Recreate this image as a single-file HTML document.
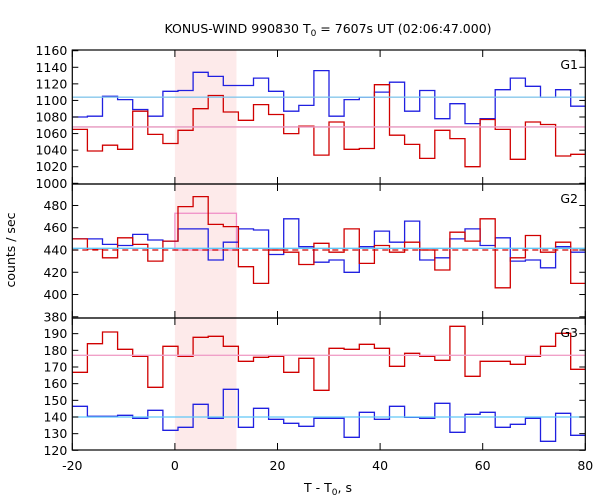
<!DOCTYPE html>
<html><head><meta charset="utf-8"><style>
html,body{margin:0;padding:0;background:#fff;}
svg{display:block;font-family:"DejaVu Sans","Liberation Sans",sans-serif;}
</style></head><body>
<svg id="chart" width="600" height="500" viewBox="0 0 600 500" xmlns="http://www.w3.org/2000/svg">
<text x="328" y="33" font-size="12.5" text-anchor="middle">KONUS-WIND 990830 T<tspan font-size="9" dy="3">0</tspan><tspan dy="-3"> = 7607s UT (02:06:47.000)</tspan></text>
<text x="15" y="250" font-size="12.5" text-anchor="middle" transform="rotate(-90 15 250)">counts / sec</text>
<text x="328" y="492" font-size="12.5" text-anchor="middle">T - T<tspan font-size="9" dy="3">0</tspan><tspan dy="-3">, s</tspan></text>
<g id="plots"></g>
</svg>
<script>
const binStart = -20;
const binWidth = 2.944;
const g1Blue = [1080,1081,1105,1101,1089,1081,1111,1112,1134,1129,1118,1118,1127,1111,1087,1094,1136,1081,1101,1104,1110,1122,1087,1112,1078,1096,1072,1078,1113,1127,1117,1104,1113,1093];
const g1Red = [1065,1039,1046,1041,1087,1059,1048,1064,1090,1106,1086,1076,1095,1083,1060,1069,1034,1074,1041,1042,1119,1058,1047,1030,1064,1054,1020,1077,1065,1029,1074,1071,1033,1035];
const g2Blue = [450,450,445,444,454,449,448,459,459,431,447,459,458,436,468,443,429,431,420,443,457,447,466,431,433,450,459,444,451,430,431,424,443,438];
const g2Red = [450,441,433,451,445,430,448,479,488,463,461,425,410,440,438,427,446,438,459,428,444,438,447,440,422,456,448,468,406,433,453,438,447,410];
const g3Red = [166.8,184,191,180.6,176.4,157.8,182.4,176.4,187.8,188.4,182.4,173.4,175.8,176.4,166.8,175.2,156,181.2,180.6,183.6,181.2,170.4,178.2,176.4,174,194.4,164.4,173.4,173.4,171.6,176.4,182.4,190.2,168.6];
const g3Blue = [146.4,140.4,140.4,141,139.2,144,132,133.8,147.6,139.2,156.6,133.8,145.2,138.6,136.2,134.4,139.2,139.2,127.8,142.8,138.6,146.4,139.8,139.2,148.2,130.8,141.6,142.8,133.8,135.6,139.2,125.4,142.2,129];
const g1Bkg = [1104, 1068];
const g2Bkg = [441.5, 440];
const g3Bkg = [140, 177];
const g2Interval = [0, 12, 473];
const shade = [0, 12];
const xTicks = [-20, 0, 20, 40, 60, 80];
const g1Ticks = [1000,1020,1040,1060,1080,1100,1120,1140,1160];
const g2Ticks = [380,400,420,440,460,480];
const g3Ticks = [120,130,140,150,160,170,180,190];

const NS = "http://www.w3.org/2000/svg";
const root = document.getElementById('plots');
const X0 = 72.3, X1 = 585.3, TMIN = -20, TMAX = 80;
const xs = t => X0 + (t - TMIN) * (X1 - X0) / (TMAX - TMIN);
const panels = [
  {name:'g1', top:50, bot:184, v0:1000, y0:183.3, k:0.8287, ticks:g1Ticks, label:'G1'},
  {name:'g2', top:184, bot:318, v0:440, y0:250, k:1.113, ticks:g2Ticks, label:'G2'},
  {name:'g3', top:318, bot:450, v0:140, y0:417, k:1.667, ticks:g3Ticks, label:'G3'}
];
function mk(tag, attrs){const e=document.createElementNS(NS,tag);for(const k in attrs)e.setAttribute(k,attrs[k]);root.appendChild(e);return e;}
function ysOf(p){return v => p.y0 - (v - p.v0) * p.k;}

// shaded interval
const sh = mk('rect',{x:xs(shade[0]),y:50,width:xs(shade[1])-xs(shade[0]),height:400,fill:'#fdeaea'});



function stepPath(vals, ys){
  let d='';
  for(let i=0;i<vals.length;i++){
    const a=Math.max(TMIN,binStart+i*binWidth), b=Math.min(TMAX,binStart+(i+1)*binWidth);
    if(a>=TMAX) break;
    const y=ys(vals[i]).toFixed(1);
    d += (i===0?'M':'L')+xs(a).toFixed(1)+' '+y+' L'+xs(b).toFixed(1)+' '+y+' ';
  }
  return d;
}
function hline(v, ys, color, name, dash){
  const l=mk('line',{x1:X0,x2:X1,y1:ys(v),y2:ys(v),stroke:color,'stroke-width':1.3});
  if(dash) l.setAttribute('stroke-dasharray', dash);
  
  
}
function series(vals, ys, color, name){
  const p=mk('path',{d:stepPath(vals,ys),fill:'none',stroke:color,'stroke-width':1.3});
  
  
}

const p1=panels[0], y1=ysOf(p1);
hline(g1Bkg[0], y1, '#c8c8c8', 'g1-blue-background');
hline(g1Bkg[1], y1, '#c8c8c8', 'g1-red-background');
series(g1Blue, y1, '#2020e0', 'g1-blue-series');
series(g1Red, y1, '#d00000', 'g1-red-series');
hline(g1Bkg[0], y1, '#80c8f0', 'g1-blue-bkg-line');
hline(g1Bkg[1], y1, '#f0a0c8', 'g1-red-bkg-line');

const p2=panels[1], y2=ysOf(p2);
const box=mk('rect',{x:xs(g2Interval[0]),y:y2(g2Interval[2]),width:xs(g2Interval[1])-xs(g2Interval[0]),height:y2(g2Bkg[1])-y2(g2Interval[2]),fill:'none',stroke:'#f090c8','stroke-width':1.3});


series(g2Blue, y2, '#2020e0', 'g2-blue-series');
series(g2Red, y2, '#d00000', 'g2-red-series');
hline(g2Bkg[1], y2, '#d00000', 'g2-red-bkg-line', '6,4');
hline(g2Bkg[0], y2, '#60c8f8', 'g2-blue-bkg-line');

const p3=panels[2], y3=ysOf(p3);
series(g3Red, y3, '#d00000', 'g3-red-series');
series(g3Blue, y3, '#2020e0', 'g3-blue-series');
hline(g3Bkg[0], y3, '#60c8f8', 'g3-blue-bkg-line');
hline(g3Bkg[1], y3, '#f0a0c8', 'g3-red-bkg-line');

// frames, ticks, labels
panels.forEach(p=>{
  const ys=ysOf(p);
  const fr=mk('rect',{x:X0,y:p.top,width:X1-X0,height:p.bot-p.top,fill:'none',stroke:'#000','stroke-width':1.2});
  
  
  p.ticks.forEach(v=>{
    const y=ys(v);
    mk('line',{x1:X0,x2:X0+6,y1:y,y2:y,stroke:'#000','stroke-width':1});
    mk('line',{x1:X1-6,x2:X1,y1:y,y2:y,stroke:'#000','stroke-width':1});
    const t=mk('text',{x:X0-5,y:y+4.5,'font-size':12.5,'text-anchor':'end'});
    t.textContent=v;
    
    
  });
  xTicks.forEach(v=>{
    const x=xs(v);
    mk('line',{x1:x,x2:x,y1:p.top,y2:p.top+7,stroke:'#000','stroke-width':1});
    mk('line',{x1:x,x2:x,y1:p.bot-7,y2:p.bot,stroke:'#000','stroke-width':1});
  });
  const lb=mk('text',{x:578,y:p.top+19,'font-size':12.5,'text-anchor':'end'});
  lb.textContent=p.label;
  
  
});
xTicks.forEach(v=>{
  const t=mk('text',{x:xs(v),y:470,'font-size':12.5,'text-anchor':'middle'});
  t.textContent=v;
  
  
});
</script>
</body></html>
